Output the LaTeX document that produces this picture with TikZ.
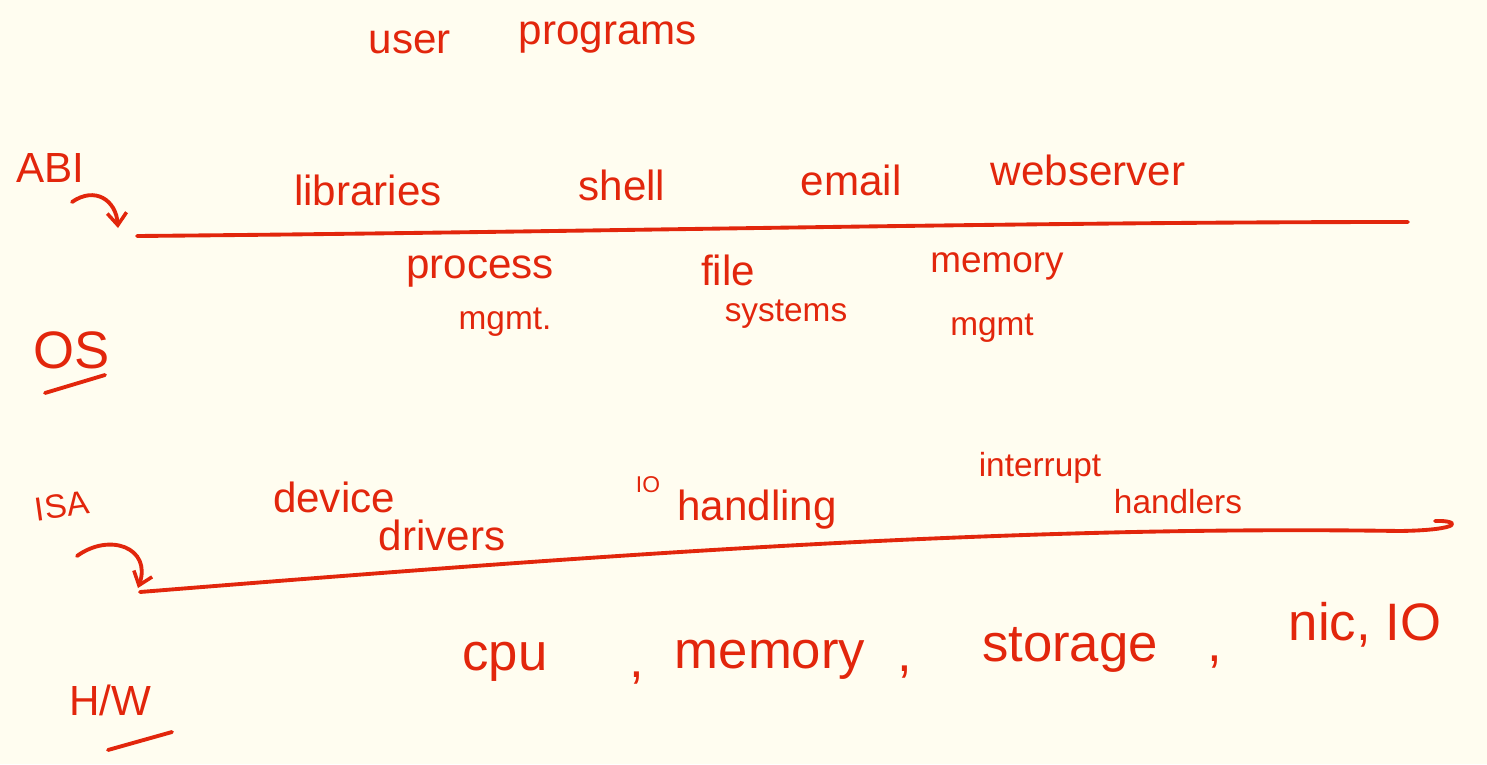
\documentclass[tikz,border=0pt]{standalone}
\usepackage{fontspec}
\setmainfont{Liberation Sans}
\usetikzlibrary{arrows.meta}
\definecolor{paper}{RGB}{255,253,240}
\definecolor{ink}{RGB}{226,38,12}
\begin{document}
\begin{tikzpicture}[x=0.02cm,y=-0.02cm,
  hand/.style={text=ink, inner sep=0pt, font=\fontsize{24}{26}\selectfont},
  small/.style={hand, font=\fontsize{19}{21}\selectfont},
  big/.style={hand, font=\fontsize{30}{32}\selectfont},
  pen/.style={draw=ink, line width=2.2pt, line cap=round, line join=round},
  barb/.style={-{Straight Barb[length=7pt,width=11pt,line width=2pt]}}]
\fill[paper] (0,0) rectangle (1487,764);
\useasboundingbox (0,0) rectangle (1487,764);

% top layer
\node[hand] (user) at (410,42) {user};
\node[hand] (progs) at (608,38) {programs};

% ABI boundary
\node[hand] (abi) at (50,168) {ABI};
\node[hand] (libs) at (368,190) {libraries};
\node[hand] (shell) at (622,185) {shell};
\node[hand] (email) at (851,180) {email};
\node[hand] (websrv) at (1088,170) {webserver};
\coordinate (abiL) at (137,236);
\coordinate (abiR) at (1408,222);
\coordinate (abiTip) at (118,228);
\draw[pen] (abiL) .. controls (600,232) and (1000,222) .. (abiR);
\draw[pen, barb] (72,202) .. controls (95,186) and (116,200) .. (abiTip);

% operating system services
\node[hand] (proc) at (480,272) {process};
\node[small] (procm) at (505,322) {mgmt.};
\node[hand] (file) at (728,270) {file};
\node[small] (files) at (786,314) {systems};
\node[hand, font=\fontsize{21}{23}\selectfont] (mem) at (997,266) {memory};
\node[small] (memm) at (992,328) {mgmt};
\node[big] (os) at (72,350) {OS};
\draw[pen] (45,393) -- (105,375);

% ISA boundary
\node[small, rotate=8] (isa) at (62,506) {ISA};
\node[hand] (dev) at (334,497) {device};
\node[hand] (drv) at (442,535) {drivers};
\node[font=\fontsize{13}{14}\selectfont, text=ink, inner sep=0pt] (io) at (648,485) {IO};
\node[hand] (handl) at (757,510) {handling};
\node[small] (intr) at (1040,468) {interrupt};
\node[small] (ihand) at (1178,502) {handlers};
\coordinate (isaL) at (140,592);
\coordinate (isaR) at (1435,521);
\coordinate (isaTip) at (138,588);
\draw[pen] (isaL) .. controls (600,555) and (1000,525) .. (1400,531)
  .. controls (1465,530) and (1460,520) .. (isaR);
\draw[pen, barb] (77,556) .. controls (110,532) and (152,548) .. (isaTip);

% hardware
\node[big] (cpu) at (505,662) {cpu};
\node[big] (c1) at (637,678) {,};
\node[big] (hwmem) at (770,660) {memory};
\node[big] (c2) at (905,672) {,};
\node[big] (stor) at (1070,650) {storage};
\node[big] (c3) at (1215,662) {,};
\node[big] (nic) at (1365,625) {nic, IO};
\node[hand] (hw) at (110,700) {H/W};
\draw[pen] (108,750) -- (172,732);
\end{tikzpicture}
\end{document}
